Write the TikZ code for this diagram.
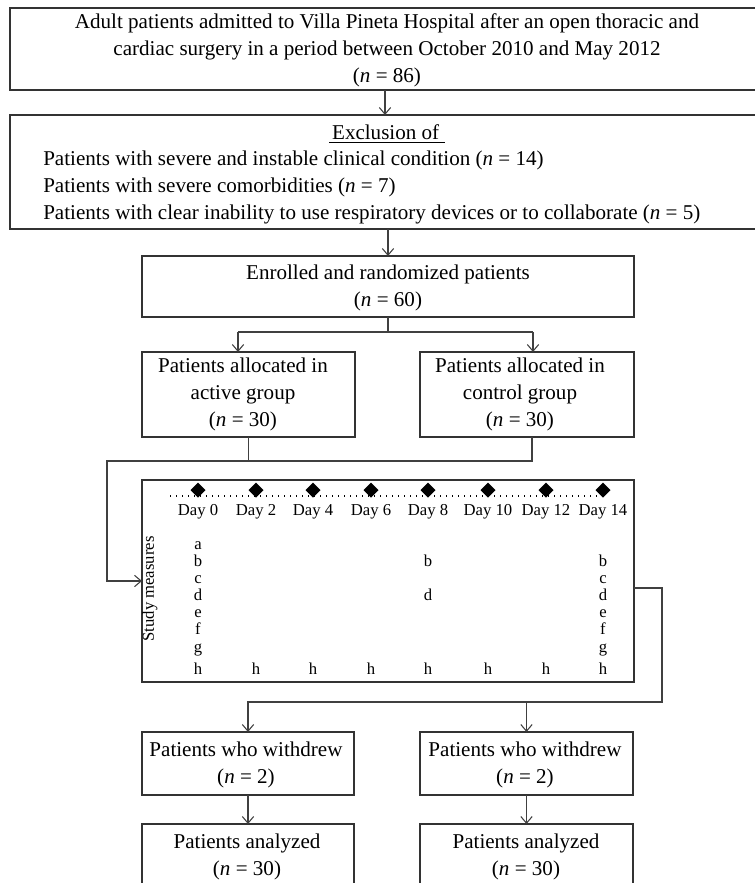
\documentclass[tikz,border=0pt]{standalone}
\usepackage{fontspec}
\setmainfont{Liberation Serif}
\usetikzlibrary{arrows.meta,calc,fit}
\begin{document}
\begin{tikzpicture}[x=0.75pt,y=-0.75pt,
  box/.style={draw=black!80, line width=0.9pt, inner sep=0pt, outer sep=0pt},
  conn/.style={draw=black!75, line width=0.8pt},
  arr/.style={conn, -{Straight Barb[length=5pt,width=8.5pt,line width=0.8pt]}},
  txt/.style={font=\fontsize{15.8}{20.25}\selectfont, inner sep=0pt, align=center},
  ltxt/.style={font=\fontsize{15.8}{20.25}\selectfont, inner sep=0pt, align=left},
  small/.style={font=\fontsize{12.5}{15}\selectfont, inner sep=0pt},
]
\useasboundingbox (0,0) rectangle (755,883);

% boxes
\node[box, fit={(10,8) (760,90)}] (top) {};
\node[box, fit={(10,115) (760,229)}] (excl) {};
\node[box, fit={(142,256) (634,317)}] (enr) {};
\node[box, fit={(142,352) (355,437)}] (act) {};
\node[box, fit={(420,352) (634,437)}] (ctl) {};
\node[box, fit={(142,480) (634,682)}] (study) {};
\node[box, fit={(142,732) (354,795)}] (wd1) {};
\node[box, fit={(420,732) (633,795)}] (wd2) {};
\node[box, fit={(142,824) (354,900)}] (an1) {};
\node[box, fit={(420,824) (633,900)}] (an2) {};

% texts
\node[txt] (toptxt) at (387,50) {Adult patients admitted to Villa Pineta Hospital after an open thoracic and\\cardiac surgery in a period between October 2010 and May 2012\\(\textit{n} = 86)};
\node[txt] (exh) at (387,134) {\underline{\hspace{2pt}Exclusion of\hspace{4pt}}};
\node[ltxt, anchor=west] (exl) at (43,187) {Patients with severe and instable clinical condition (\textit{n} = 14)\\Patients with severe comorbidities (\textit{n} = 7)\\Patients with clear inability to use respiratory devices or to collaborate (\textit{n} = 5)};
\node[txt] (enrtxt) at (388,287.5) {Enrolled and randomized patients\\(\textit{n} = 60)};
\node[txt] (acttxt) at (243,394.5) {Patients allocated in\\active group\\(\textit{n} = 30)};
\node[txt] (ctltxt) at (520,394.5) {Patients allocated in\\control group\\(\textit{n} = 30)};
\node[txt] (wd1txt) at (246,764.5) {Patients who withdrew\\(\textit{n} = 2)};
\node[txt] (wd2txt) at (525,764.5) {Patients who withdrew\\(\textit{n} = 2)};
\node[txt] (an1txt) at (247,856.5) {Patients analyzed\\(\textit{n} = 30)};
\node[txt] (an2txt) at (526,856.5) {Patients analyzed\\(\textit{n} = 30)};

% study box content
\draw[black, line width=0.9pt, dash pattern=on 0.9pt off 3.6pt] (170,496) -- (597,496);
\foreach \x/\n in {198/0,256/2,313/4,371/6,428/8,488/10,546/12,603/14}{
  \fill[black] (\x,482.5) -- (\x+7.5,490) -- (\x,497.5) -- (\x-7.5,490) -- cycle;
  \node[small] (day\n) at (\x,512) {Day \n};
  \node[small, anchor=base] (h\n) at (\x,674) {h};
}
\foreach \l/\yy in {a/549,b/566,c/583,d/600,e/617,f/634,g/652}{
  \node[small, anchor=base] (p\l) at (198,\yy) {\l};
}
\foreach \l/\yy in {b/566,c/583,d/600,e/617,f/634,g/652}{
  \node[small, anchor=base] (q\l) at (603,\yy) {\l};
}
\node[small, anchor=base] (mb) at (428,566) {b};
\node[small, anchor=base] (md) at (428,600) {d};
\node[small, rotate=90] (sm) at (150,589) {Study measures};

% connectors
\draw[arr] (top.south) -- (excl.north);
\draw[arr] (excl.south -| enr.north) -- (enr.north);
\coordinate (sL) at (238,332);
\coordinate (sR) at (533,332);
\draw[conn] (enr.south) -- (enr.south |- sL);
\draw[conn] (sL) -- (sR);
\draw[arr] (sL) -- (sL |- act.north);
\draw[arr] (sR) -- (sR |- ctl.north);
\coordinate (mL) at (107,461);
\coordinate (cB) at (532,437);
\draw[conn] (cB) |- (mL);
\draw[arr] (act.south) |- (mL) |- (study.west);
\coordinate (rc) at (662,702);
\coordinate (sE) at ($(study.east)+(0,7)$);
\draw[arr] (sE) -| (rc) -| (wd1.north);
\draw[arr] (wd2.north |- rc) -- (wd2.north);
\draw[arr] (wd1.south) -- (an1.north);
\draw[arr] (wd2.south) -- (an2.north);
\end{tikzpicture}
\end{document}
